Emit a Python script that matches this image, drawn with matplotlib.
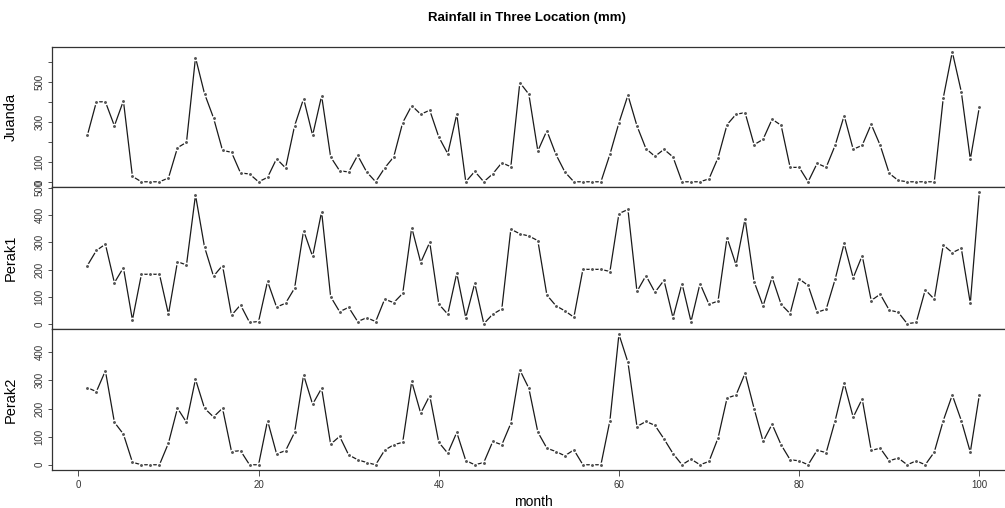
import matplotlib
matplotlib.use("Agg")
import matplotlib.pyplot as plt
import numpy as np

months = np.arange(1, 101)

juanda = [235, 402, 402, 282, 407, 30, 3, 3, 3, 22,
          173, 200, 623, 443, 322, 160, 150, 47, 42, 3,
          25, 118, 72, 282, 418, 235, 432, 127, 58, 52,
          135, 52, 3, 72, 127, 298, 383, 340, 360, 227,
          143, 340, 3, 55, 3, 43, 98, 78, 498, 440,
          157, 258, 140, 52, 3, 3, 3, 3, 140, 297,
          435, 282, 168, 130, 165, 127, 3, 3, 3, 18,
          123, 288, 340, 348, 188, 215, 315, 285, 75, 75,
          3, 95, 75, 185, 333, 165, 185, 290, 185, 45,
          10, 3, 3, 3, 3, 422, 651, 452, 115, 375]

perak1 = [215, 270, 293, 152, 207, 16, 183, 183, 183, 37,
          229, 217, 473, 283, 176, 215, 33, 71, 7, 10,
          157, 63, 77, 132, 343, 248, 412, 101, 46, 62,
          10, 24, 10, 92, 79, 113, 354, 226, 300, 74,
          37, 187, 24, 150, 2, 37, 56, 348, 331, 323,
          306, 107, 68, 49, 26, 201, 201, 201, 193, 405,
          420, 120, 178, 117, 161, 24, 149, 10, 149, 73,
          85, 317, 217, 386, 156, 67, 172, 73, 39, 166,
          142, 44, 55, 165, 296, 170, 251, 87, 110, 52,
          44, 2, 7, 126, 92, 290, 262, 278, 77, 483]

perak2 = [274, 260, 334, 151, 109, 9, 0, 0, 0, 77,
          201, 151, 304, 201, 170, 201, 47, 50, 0, 0,
          157, 39, 50, 115, 319, 215, 272, 73, 101, 35,
          18, 8, 0, 52, 71, 80, 296, 183, 246, 80,
          41, 115, 15, 0, 8, 83, 71, 147, 337, 272,
          116, 59, 47, 32, 53, 0, 0, 0, 157, 464,
          364, 136, 154, 140, 92, 40, 0, 20, 0, 12,
          95, 237, 248, 325, 200, 83, 144, 71, 18, 14,
          0, 52, 43, 157, 290, 169, 234, 51, 59, 14,
          24, 0, 14, 0, 45, 157, 248, 157, 45, 248]

names = ["Juanda", "Perak1", "Perak2"]
series = [juanda, perak1, perak2]
yticks = [np.arange(0, 700, 100), np.arange(0, 600, 100), np.arange(0, 500, 100)]
ylabels = [["0", "100", "", "300", "", "500", ""],
           ["0", "100", "200", "300", "400", "500"],
           ["0", "100", "200", "300", "400"]]
xticks = [0, 20, 40, 60, 80, 100]

plt.rcParams['font.family'] = ['Liberation Sans', 'DejaVu Sans']

W, H = 1005, 508
fig = plt.figure(figsize=(W / 100, H / 100), dpi=100)

# panel edges in pixels (top, bottom), axes run past the right edge like the crop
panels = [(46.7, 187), (187, 329), (329, 470)]
left, right = 51.7, 1015

for i, (top, bot) in enumerate(panels):
    ax = fig.add_axes([left / W, 1 - bot / H, (right - left) / W, (bot - top) / H])
    y = np.array(series[i], dtype=float)
    ax.plot(months, y, color="#1a1a1a", lw=0.9, zorder=2)
    # white halo round each point gives the R type="b" gaps
    ax.plot(months, y, ls="none", marker="o", ms=4.2, mfc="white", mec="none", zorder=3)
    ax.plot(months, y, ls="none", marker=".", ms=2.2, color="#555555", zorder=4)

    span = y.max() - y.min()
    ax.set_ylim(y.min() - 0.04 * span, y.max() + 0.04 * span)
    ax.set_xlim(1 - 0.04 * 99, 100 + 0.04 * 99)

    ax.set_yticks(yticks[i])
    ax.set_yticklabels(ylabels[i], rotation=90, va="center", fontsize=7, color="#333333")
    ax.tick_params(axis="y", length=3, width=0.6, pad=2, colors="#333333")
    ax.set_ylabel(names[i], fontsize=10.5, labelpad=6)
    ax.yaxis.set_label_coords(-0.035, 0.5)

    for s in ax.spines.values():
        s.set_color("#333333")
        s.set_linewidth(0.9)

    if i < 2:
        ax.set_xticks([])
    else:
        ax.set_xticks(xticks)
        ax.tick_params(axis="x", length=4, width=0.6, pad=3, labelsize=7, colors="#333333")
        ax.set_xlabel("month", fontsize=10, labelpad=4)

fig.text(527 / W, 1 - 18 / H, "Rainfall in Three Location (mm)", ha="center", va="center",
         fontsize=9.5, fontweight="bold")

fig.savefig("out.png", dpi=100)
